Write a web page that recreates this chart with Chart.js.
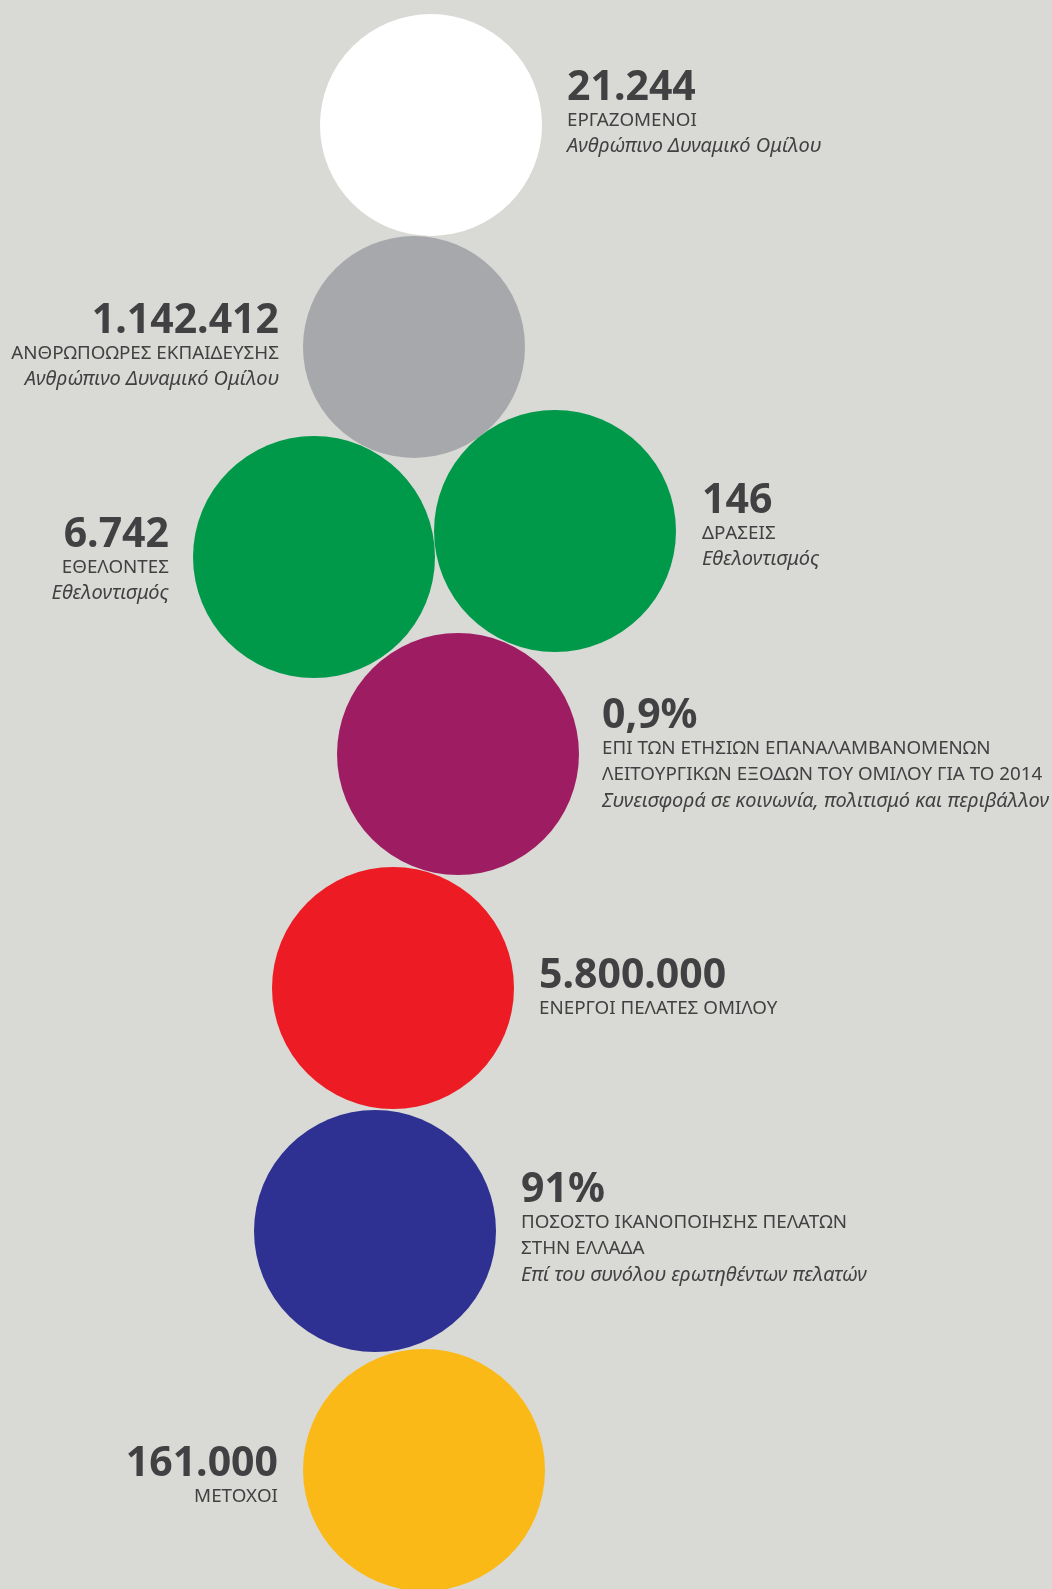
<!DOCTYPE html>
<html>
<head>
<meta charset="utf-8">
<script src="https://cdn.jsdelivr.net/npm/chart.js@4.4.1/dist/chart.umd.min.js"></script>
<style>
  html, body { margin: 0; padding: 0; background: #d9dad5; }
  #wrap { position: relative; width: 1052px; height: 1589px; overflow: hidden; }
  #bubbles { position: absolute; left: 0; top: 0; }
  .t { position: absolute; white-space: nowrap; color: #414143; font-family: "Noto Sans", sans-serif; line-height: 1; }
  .num { font-weight: 700; font-size: 41px; }
  .cap { font-size: 18.8px; }
  .sub { font-size: 20px; font-style: italic; }
</style>
</head>
<body>
<div id="wrap">
  <canvas id="bubbles" width="1052" height="1589"></canvas>
</div>
<script>
// figures shown in the bubbles
var values = ['21.244', '1.142.412', '6.742', '146', '0,9%', '5.800.000', '91%', '161.000'];
var captions = [
    ['ΕΡΓΑΖΟΜΕΝΟΙ'],
    ['ΑΝΘΡΩΠΟΩΡΕΣ ΕΚΠΑΙΔΕΥΣΗΣ'],
    ['ΕΘΕΛΟΝΤΕΣ'],
    ['ΔΡΑΣΕΙΣ'],
    ['ΕΠΙ ΤΩΝ ΕΤΗΣΙΩΝ ΕΠΑΝΑΛΑΜΒΑΝΟΜΕΝΩΝ', 'ΛΕΙΤΟΥΡΓΙΚΩΝ ΕΞΟΔΩΝ ΤΟΥ ΟΜΙΛΟΥ ΓΙΑ ΤΟ 2014'],
    ['ΕΝΕΡΓΟΙ ΠΕΛΑΤΕΣ ΟΜΙΛΟΥ'],
    ['ΠΟΣΟΣΤΟ ΙΚΑΝΟΠΟΙΗΣΗΣ ΠΕΛΑΤΩΝ', 'ΣΤΗΝ ΕΛΛΑΔΑ'],
    ['ΜΕΤΟΧΟΙ']
];
var subtitles = [
    'Ανθρώπινο Δυναμικό Ομίλου',
    'Ανθρώπινο Δυναμικό Ομίλου',
    'Εθελοντισμός',
    'Εθελοντισμός',
    'Συνεισφορά σε κοινωνία, πολιτισμό και περιβάλλον',
    '',
    'Επί του συνόλου ερωτηθέντων πελατών',
    ''
];

// bubble centres and radii
var bubbleX = [431, 414, 314, 555, 458, 393, 375, 424];
var bubbleY = [125, 347, 557, 531, 754, 988, 1231, 1470];
var bubbleR = [111, 111, 121, 121, 121, 121, 121, 121];
var bubbleColors = ['#ffffff', '#a7a8ab', '#00994a', '#00994a', '#9e1d62', '#ed1c24', '#2e3192', '#fbb917'];

// where the text block sits: side, anchor x, baseline of the number line
var labelSide = ['left', 'right', 'right', 'left', 'left', 'left', 'left', 'right'];
var labelX = [567, 279, 169, 702, 602, 539, 521, 278];
var labelBase = [100, 333, 547, 513, 728, 988, 1202, 1476];

var points = [];
for (var i = 0; i < values.length; i++) {
    points.push({ x: bubbleX[i], y: bubbleY[i], r: bubbleR[i] });
}

var ctx = document.getElementById('bubbles').getContext('2d');
var myChart = new Chart(ctx, {
    type: 'bubble',
    data: {
        datasets: [{
            data: points,
            backgroundColor: bubbleColors,
            hoverBackgroundColor: bubbleColors,
            borderWidth: 0,
            hoverBorderWidth: 0,
            clip: false
        }]
    },
    options: {
        responsive: false,
        animation: false,
        events: [],
        // no auto padding, otherwise the bubbles get pushed inwards by their radius
        layout: { padding: 0, autoPadding: false },
        plugins: { legend: { display: false }, tooltip: { enabled: false } },
        scales: {
            x: { type: 'linear', min: 0, max: 1052, display: false },
            y: { type: 'linear', min: 0, max: 1589, reverse: true, display: false }
        }
    }
});

// text blocks as html
var wrap = document.getElementById('wrap');
function addLine(text, cls, side, x, base, size) {
    var d = document.createElement('div');
    d.className = 't ' + cls;
    d.textContent = text;
    d.style.top = (base - 0.888 * size) + 'px';
    if (side === 'left') {
        d.style.left = x + 'px';
    } else {
        d.style.right = (1052 - x) + 'px';
        d.style.textAlign = 'right';
    }
    wrap.appendChild(d);
}
var lineGap = 26.5;
for (var i = 0; i < values.length; i++) {
    var base = labelBase[i];
    addLine(values[i], 'num', labelSide[i], labelX[i], base, 41);
    for (var j = 0; j < captions[i].length; j++) {
        base += lineGap;
        addLine(captions[i][j], 'cap', labelSide[i], labelX[i], base, 18.8);
    }
    if (subtitles[i]) {
        base += lineGap;
        addLine(subtitles[i], 'sub', labelSide[i], labelX[i], base, 20);
    }
}
</script>
</body>
</html>
